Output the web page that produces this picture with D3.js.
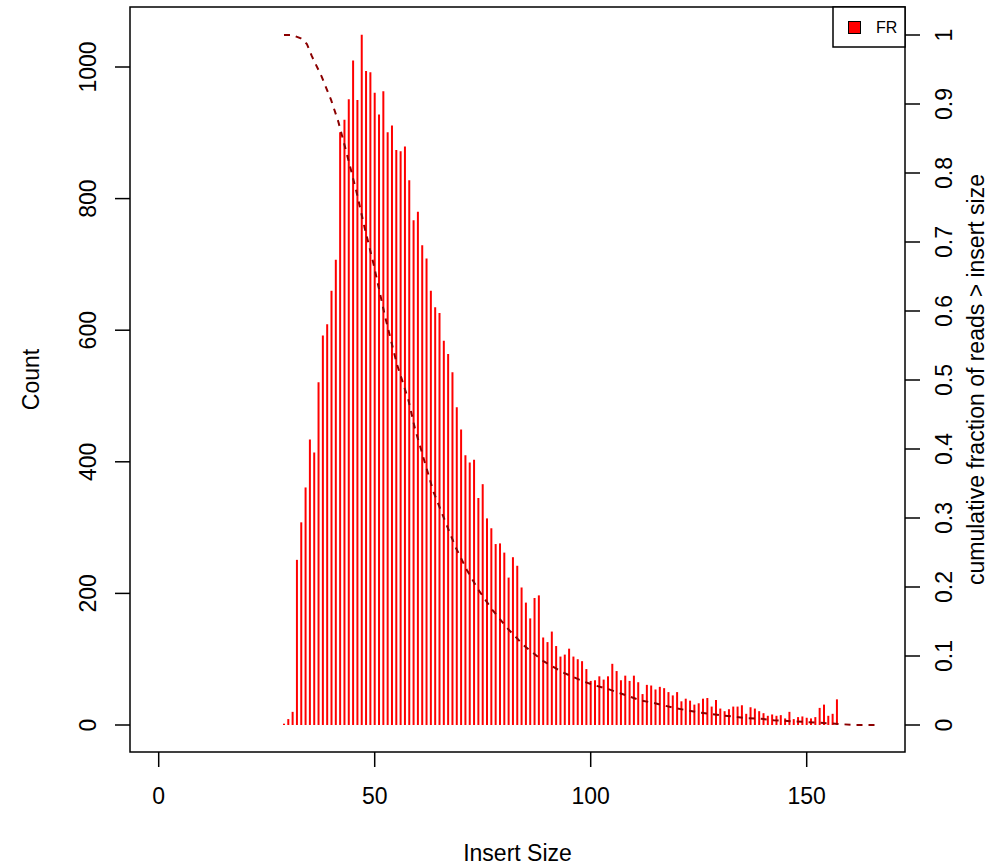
<!DOCTYPE html>
<html><head><meta charset="utf-8">
<script src="https://cdn.jsdelivr.net/npm/d3@7"></script>
<style>
html,body{margin:0;padding:0;background:#fff;}
text{font-family:"Liberation Sans",Arial,Helvetica,sans-serif;fill:#000;}
</style></head>
<body><svg id="c" width="997" height="867"></svg>
<script>
// Histogram: insert size -> count
const insertSizes = d3.range(29, 158);
const counts = [2,9,20,251,308,361,434,414,521,592,609,660,707,901,920,951,1010,950,1049,994,
992,961,928,963,901,911,874,872,879,828,767,780,729,709,660,635,626,584,564,536,
483,449,410,399,403,345,366,314,299,275,276,262,224,255,242,209,186,162,193,197,
133,126,142,120,104,107,116,104,100,97,85,67,68,74,69,74,93,82,68,75,
67,75,65,47,61,60,54,58,56,50,45,50,36,40,37,31,33,40,41,28,
38,25,21,24,28,28,30,17,27,25,21,18,14,16,14,15,10,20,9,12,
13,11,10,12,26,31,14,17,39];
// Cumulative fraction of reads > insert size
const cumX = [29,31,32.9,34.3,35.4,37.7,39.9,41.6,43.5,45.7,47.7,49.7,52.4,55.1,57.8,59.3,61.3,63.6,65.7,68.7,
71.3,74,77.1,80.6,84.4,88.7,93.3,98.3,101.2,104.1,106.8,109.1,111.4,114.5,117.2,119.9,122.6,125.3,128,130.7,
133.4,136.1,139.2,142.3,146.9,150,155.4,158.5,161.2,166];
const cumY = [1,1,0.995,0.987,0.970,0.940,0.906,0.874,0.829,0.775,0.72,0.669,0.592,0.524,0.471,0.43,0.387,0.338,0.305,0.258,
0.225,0.196,0.168,0.141,0.116,0.094,0.077,0.063,0.057,0.052,0.046,0.041,0.036,0.032,0.028,0.024,0.021,0.018,0.016,0.0135,
0.012,0.010,0.0092,0.007,0.0053,0.0043,0.0024,0.001,0,0];
const xTicks = [0,50,100,150];
const yTicks = [0,200,400,600,800,1000];
const y2Ticks = [0,0.1,0.2,0.3,0.4,0.5,0.6,0.7,0.8,0.9,1];
const legendLabels = ["FR"];

const svg = d3.select("#c");
const L=130, R=905, T=7, B=752;
const x = d3.scaleLinear().domain([0,150]).range([158.7,806.7]);
const y = d3.scaleLinear().domain([0,1000]).range([725,67]);
const y2 = d3.scaleLinear().domain([0,1]).range([725,35]);
const FS = 23;

svg.append("rect").attr("width",997).attr("height",867).attr("fill","#fff");

// bars
svg.append("g").selectAll("line").data(insertSizes.map((v,i)=>[v,counts[i]])).join("line")
  .attr("x1",d=>x(d[0])).attr("x2",d=>x(d[0]))
  .attr("y1",y(0)).attr("y2",d=>y(d[1]))
  .attr("stroke","#ff0000").attr("stroke-width",2);

// cumulative line
svg.append("path")
  .datum(cumX.map((v,i)=>[v,cumY[i]]))
  .attr("d",d3.line().x(d=>x(d[0])).y(d=>y2(d[1])))
  .attr("fill","none").attr("stroke","#8b0000").attr("stroke-width",2)
  .attr("stroke-dasharray","6,6");

// box
svg.append("rect").attr("x",L).attr("y",T).attr("width",R-L).attr("height",B-T)
  .attr("fill","none").attr("stroke","#000").attr("stroke-width",1.5);

// bottom axis
const gx = svg.append("g");
gx.selectAll("line").data(xTicks).join("line")
  .attr("x1",d=>x(d)).attr("x2",d=>x(d)).attr("y1",B).attr("y2",B+15)
  .attr("stroke","#000").attr("stroke-width",1.5);
gx.selectAll("text").data(xTicks).join("text")
  .attr("x",d=>x(d)).attr("y",804).attr("text-anchor","middle").attr("font-size",FS)
  .text(d=>d);

// left axis
const gy = svg.append("g");
gy.selectAll("line").data(yTicks).join("line")
  .attr("x1",L-15).attr("x2",L).attr("y1",d=>y(d)).attr("y2",d=>y(d))
  .attr("stroke","#000").attr("stroke-width",1.5);
gy.selectAll("text").data(yTicks).join("text")
  .attr("transform",d=>`translate(96,${y(d)}) rotate(-90)`)
  .attr("text-anchor","middle").attr("font-size",FS).text(d=>d);

// right axis
const gy2 = svg.append("g");
gy2.selectAll("line").data(y2Ticks).join("line")
  .attr("x1",R).attr("x2",R+15).attr("y1",d=>y2(d)).attr("y2",d=>y2(d))
  .attr("stroke","#000").attr("stroke-width",1.5);
gy2.selectAll("text").data(y2Ticks).join("text")
  .attr("transform",d=>`translate(952,${y2(d)}) rotate(-90)`)
  .attr("text-anchor","middle").attr("font-size",FS).text(d=>d);

// axis titles
svg.append("text").attr("x",(L+R)/2).attr("y",861).attr("text-anchor","middle")
  .attr("font-size",FS).text("Insert Size");
svg.append("text").attr("transform",`translate(39,${(T+B)/2}) rotate(-90)`)
  .attr("text-anchor","middle").attr("font-size",FS).text("Count");
svg.append("text").attr("transform",`translate(984,${(T+B)/2}) rotate(-90)`)
  .attr("text-anchor","middle").attr("font-size",FS).text("cumulative fraction of reads > insert size");

// legend
const lg = svg.append("g");
lg.append("rect").attr("x",833).attr("y",T).attr("width",R-833).attr("height",47-T)
  .attr("fill","#fff").attr("stroke","#000").attr("stroke-width",1.5);
lg.selectAll("rect.k").data(legendLabels).join("rect").attr("class","k")
  .attr("x",848.5).attr("y",21.5).attr("width",12).attr("height",12)
  .attr("fill","#ff0000").attr("stroke","#000").attr("stroke-width",1);
lg.selectAll("text").data(legendLabels).join("text")
  .attr("x",876).attr("y",33).attr("font-size",16).text(d=>d);
</script></body></html>
